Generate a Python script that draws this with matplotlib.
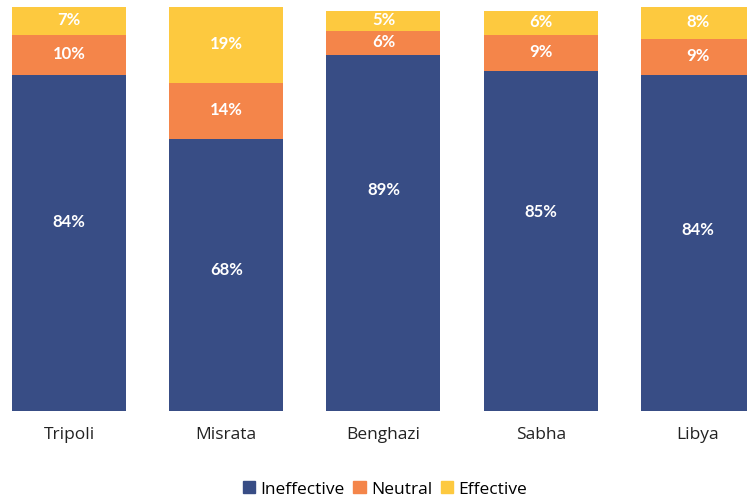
import numpy as np
import matplotlib.pyplot as plt
from matplotlib.patches import Patch

plt.rcParams['font.family'] = ['Open Sans', 'DejaVu Sans']

regions = ["Tripoli", "Misrata", "Benghazi", "Sabha", "Libya"]
ineffective = [84, 68, 89, 85, 84]
neutral = [10, 14, 6, 9, 9]
effective = [7, 19, 5, 6, 8]

series = ["Ineffective", "Neutral", "Effective"]
colors = ["#384D85", "#F4854A", "#FDC93F"]

# label heights inside the navy segment (the original places them by hand)
ineffective_label_y = [47.3, 35.5, 55.3, 49.8, 45.3]

fig = plt.figure(figsize=(7.47, 5.02), dpi=100)
ax = fig.add_axes([0, 0.180, 1, 0.805])

x = np.arange(len(regions))
width = 0.725
bottom = np.zeros(len(regions))
for k, (name, vals, col) in enumerate(zip(series, [ineffective, neutral, effective], colors)):
    vals = np.array(vals, dtype=float)
    ax.bar(x, vals, width, bottom=bottom, color=col, label=name)
    for i, (xi, b, v) in enumerate(zip(x, bottom, vals)):
        y = ineffective_label_y[i] if k == 0 else b + v / 2 + 0.4
        ax.text(xi, y, f"{int(v)}%", ha="center", va="center",
                color="white", fontsize=12, fontweight="bold",
                family=["Lato", "DejaVu Sans"])
    bottom += vals

ax.set_xlim(-0.439, 4.312)
ax.set_ylim(0, 101)
ax.set_xticks(x)
ax.set_xticklabels(regions, fontsize=12.5, color="#222222")
ax.tick_params(axis="x", length=0, pad=11)
ax.set_yticks([])
for s in ax.spines.values():
    s.set_visible(False)

handles = [Patch(color=c, label=n) for n, c in zip(series, colors)]
fig.legend(handles=handles, loc="center", bbox_to_anchor=(385 / 747, 1 - 490 / 502),
           ncol=3, frameon=False, fontsize=12.5, handlelength=0.7, handleheight=0.7,
           handletextpad=0.3, columnspacing=0.5)

fig.savefig("out.png", dpi=100)
